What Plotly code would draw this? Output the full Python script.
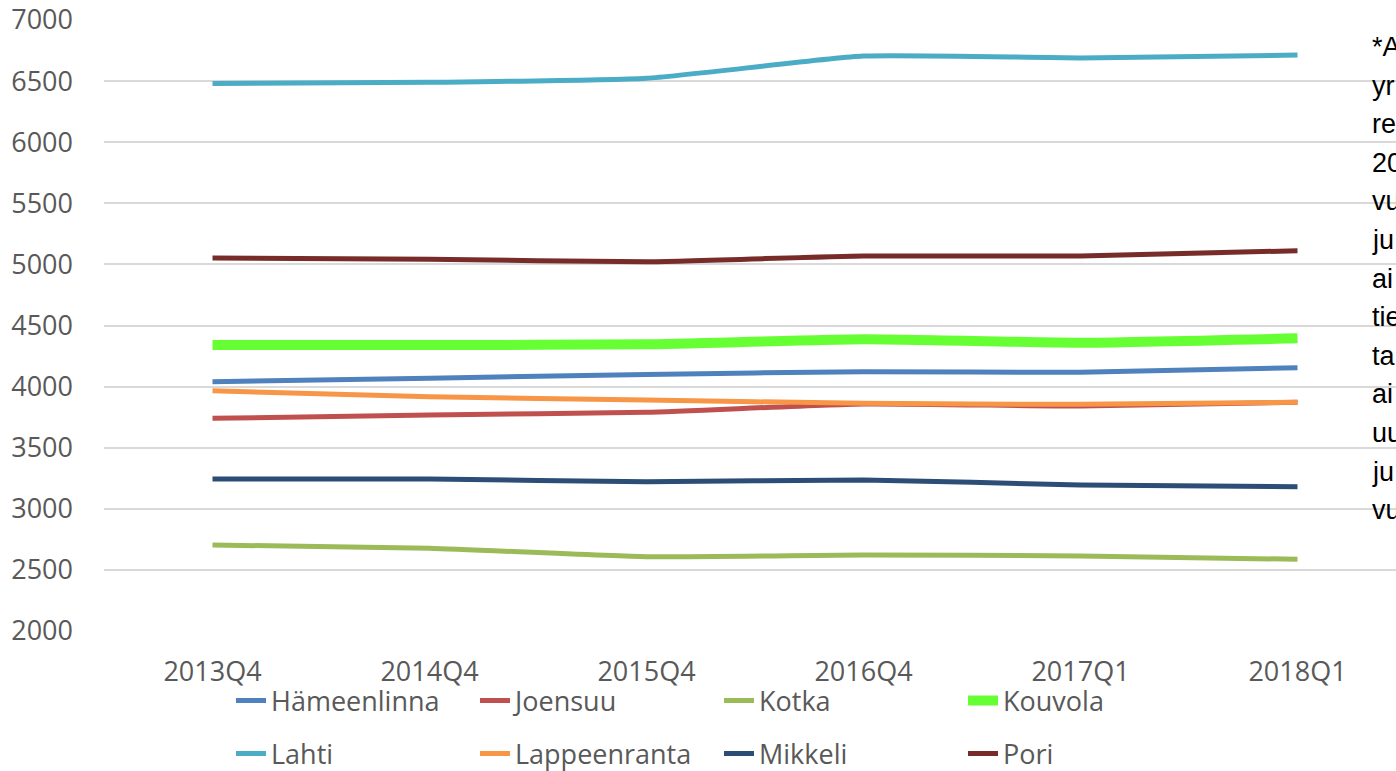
import plotly.graph_objects as go

categories = ["2013Q4", "2014Q4", "2015Q4", "2016Q4", "2017Q1", "2018Q1"]

hameenlinna = [4040, 4068, 4100, 4122, 4117, 4155]
joensuu = [3740, 3768, 3790, 3858, 3841, 3871]
kotka = [2704, 2677, 2608, 2622, 2614, 2587]
kouvola = [4340, 4340, 4346, 4387, 4359, 4395]
lahti = [6480, 6490, 6523, 6705, 6690, 6713]
lappeenranta = [3966, 3917, 3890, 3863, 3855, 3871]
mikkeli = [3244, 3244, 3222, 3236, 3195, 3181]
pori = [5052, 5042, 5022, 5069, 5069, 5112]

series_names = ["Hämeenlinna", "Joensuu", "Kotka", "Kouvola",
                "Lahti", "Lappeenranta", "Mikkeli", "Pori"]
series_values = [hameenlinna, joensuu, kotka, kouvola,
                 lahti, lappeenranta, mikkeli, pori]
series_colors = ["#4F81BD", "#C0504D", "#9BBB59", "#66FF33",
                 "#4BACC6", "#F79646", "#2C4D75", "#772C2A"]
series_widths = [5, 5, 5, 10, 5, 5, 5, 5]

y_ticks = [2000, 2500, 3000, 3500, 4000, 4500, 5000, 5500, 6000, 6500, 7000]

note_lines = ["*A", "yr", "re", "20", "vu", "ju", "ai", "tie", "ta", "ai", "uu", "ju", "vu"]

W, H = 1396, 771
ML, MR, MT, MB = 104, 0, 20, 140
PW = W - ML - MR
PH = H - MT - MB

GRAY = "#595959"
TICKFONT = dict(family="Open Sans", size=27, color=GRAY)

fig = go.Figure()
for i, (name, vals, col, w) in enumerate(zip(series_names, series_values, series_colors, series_widths)):
    fig.add_trace(go.Scatter(
        x=categories, y=vals, name=name, mode="lines",
        line=dict(color=col, width=w, shape="spline", smoothing=0.5),
        legend="legend" if i < 4 else "legend2",
    ))

legend_common = dict(
    orientation="h", xanchor="left", yanchor="middle",
    font=dict(family="Open Sans", size=27, color=GRAY),
    entrywidth=199, entrywidthmode="pixels",
    bgcolor="rgba(0,0,0,0)", itemwidth=30,
    traceorder="normal",
)

def px_to_paper_x(px):
    return (px - ML) / PW

def px_to_paper_y(py):
    return (MT + PH - py) / PH

fig.update_layout(
    width=W, height=H,
    margin=dict(l=ML, r=MR, t=MT, b=MB, pad=0, autoexpand=False),
    plot_bgcolor="white", paper_bgcolor="white",
    showlegend=True,
    legend=dict(x=px_to_paper_x(231), y=px_to_paper_y(701), **legend_common),
    legend2=dict(x=px_to_paper_x(231), y=px_to_paper_y(754), **legend_common),
    xaxis=dict(
        type="category", range=[-0.5, (PW / 217.0) - 0.5],
        showgrid=False, zeroline=False, showline=False, ticks="",
        tickfont=TICKFONT, ticklabelstandoff=22,
    ),
    yaxis=dict(
        range=[2000, 7000], tickvals=y_ticks,
        showgrid=True, gridcolor="#D9D9D9", gridwidth=2,
        zeroline=False, showline=False, ticks="",
        tickfont=TICKFONT, ticklabelstandoff=30,
    ),
)

for k, t in enumerate(note_lines):
    fig.add_annotation(
        xref="paper", yref="paper",
        x=px_to_paper_x(1370), y=px_to_paper_y(47 + 38.6 * k),
        xanchor="left", yanchor="middle", showarrow=False,
        text=t, font=dict(family="Liberation Sans", size=27, color="black"),
    )

fig.write_html(
    "out.html",
    config={"displayModeBar": False},
    post_script="document.body.style.margin='0px';document.body.style.overflow='hidden';",
)
